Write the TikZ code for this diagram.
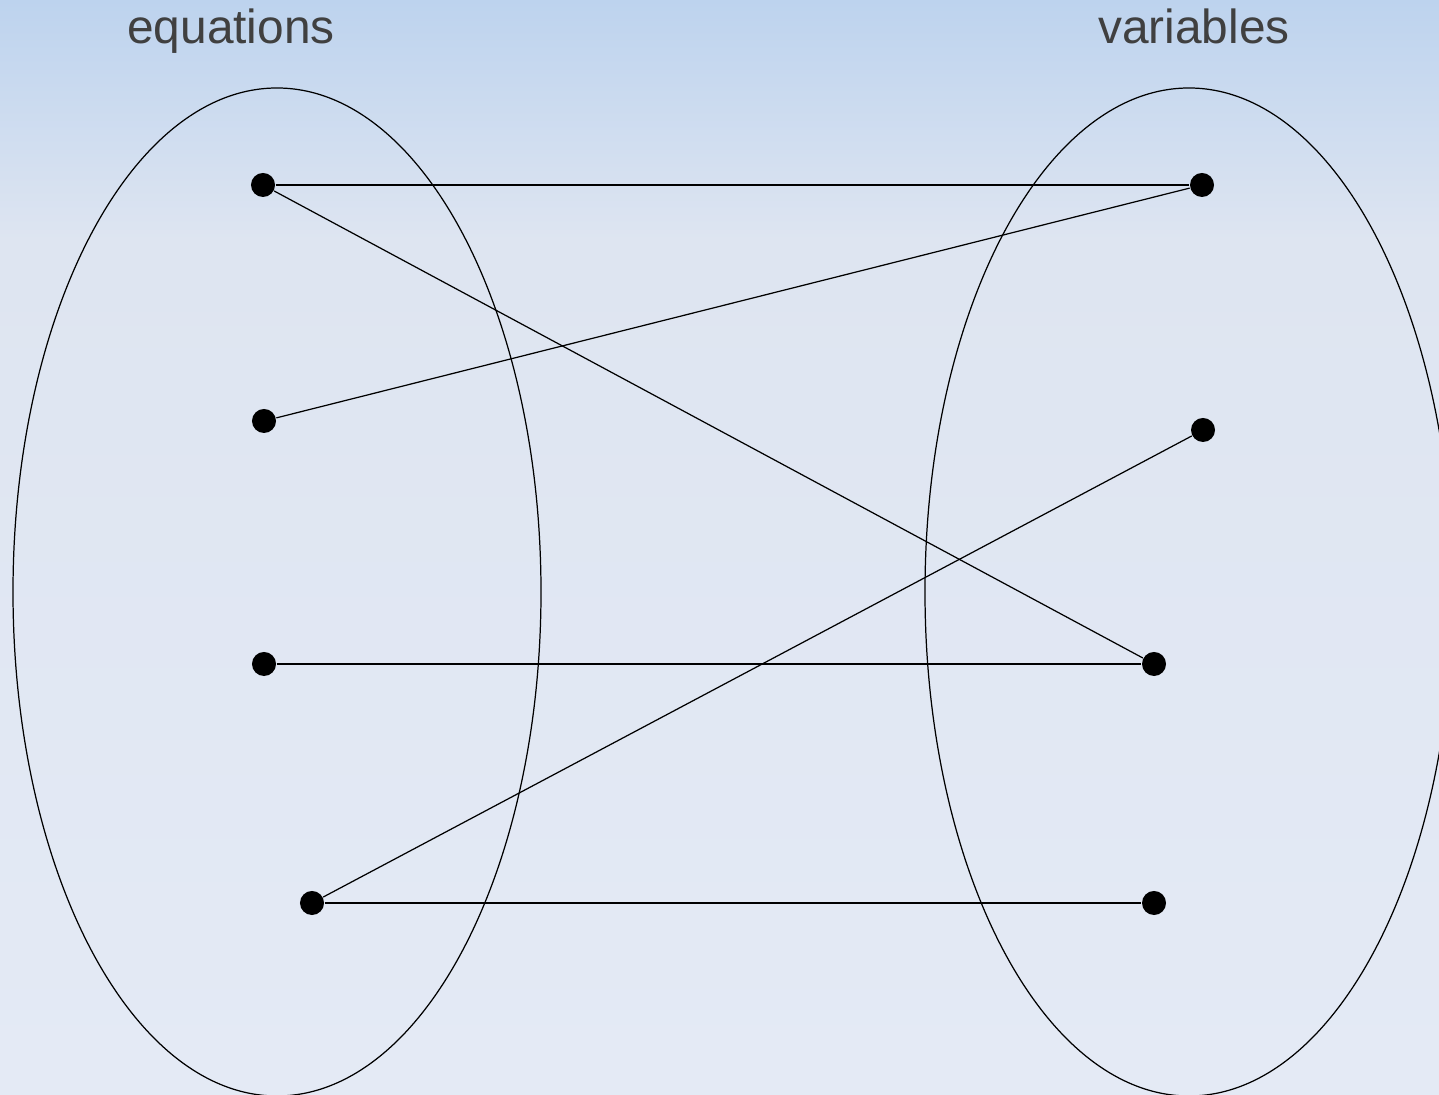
\documentclass[tikz,border=0pt]{standalone}
\usepackage{fontspec}
\setmainfont{Liberation Sans}
\usepackage{xcolor}
\usetikzlibrary{positioning}

\definecolor{bgtop}{RGB}{189,211,238}
\definecolor{bgmid}{RGB}{222,229,241}
\definecolor{bgbot}{RGB}{228,234,245}
\definecolor{labgray}{RGB}{64,64,64}

\begin{document}
\begin{tikzpicture}[
  x=0.01cm, y=-0.01cm,
  setlab/.style={font=\fontsize{13.6}{16}\selectfont, text=labgray, anchor=base},
  dot/.style={circle, fill=black, inner sep=0pt, minimum width=0.22cm, minimum height=0.24cm},
  setring/.style={draw=black, line width=0.35pt},
  link/.style={draw=black, line width=0.35pt}
]

% background
\useasboundingbox (0,0) rectangle (1439,1095);
\fill[top color=bgtop, bottom color=bgmid] (0,0) rectangle (1439,240);
\fill[top color=bgmid, bottom color=bgbot] (0,240) rectangle (1439,1095);

% the two sets
\begin{scope}
  \clip (0,0) rectangle (1439,1095);
  \draw[setring] (277,592) ellipse [x radius=264, y radius=504];
  \draw[setring] (1189,592) ellipse [x radius=264, y radius=504];
\end{scope}

\node[setlab] (eqlab) at (231,44) {equations};
\node[setlab] (varlab) at (1194,44) {variables};

% equations
\node[dot] (e1) at (263,185) {};
\node[dot] (e2) at (264,421) {};
\node[dot] (e3) at (264,664) {};
\node[dot] (e4) at (312,903) {};

% variables
\node[dot] (v1) at (1202,185) {};
\node[dot] (v2) at (1203,430) {};
\node[dot] (v3) at (1154,664) {};
\node[dot] (v4) at (1154,903) {};

\draw[link] (e1) -- (v1);
\draw[link] (e1) -- (v3);
\draw[link] (e2) -- (v1);
\draw[link] (e3) -- (v3);
\draw[link] (e4) -- (v2);
\draw[link] (e4) -- (v4);

\end{tikzpicture}
\end{document}
